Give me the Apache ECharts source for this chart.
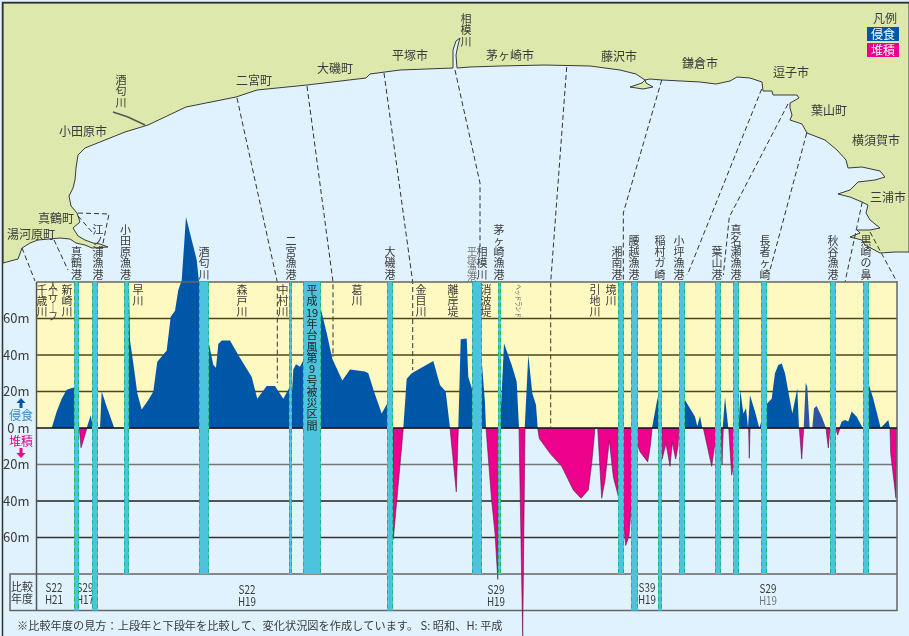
<!DOCTYPE html>
<html lang="ja">
<head>
    <meta charset="UTF-8">
    <title>相模湾沿岸 汀線変化状況図</title>
    <style>
        html, body { margin: 0; padding: 0; background: #e0f2fe; overflow: hidden; }
    </style>
</head>
<body>
<div id="main" style="width: 909px;height:636px;"></div>

<script src="https://cdn.jsdelivr.net/npm/echarts@6/dist/echarts.min.js"></script>

<script type="text/javascript">
    // distance along the coast (same unit as the map) and shoreline change in metres
    var erosionX = [
        51.7, 56.7, 61.7, 66.7, 72.7, 75, 76,
        86.7, 90.7, 92.5, 93,
        100, 101.7, 106.7, 114.3,
        128.5, 129, 130, 133.3, 137.3, 141.7, 148.3, 153.3, 157.3, 166.7, 170.7, 175, 178.3, 181.7, 186, 191.7, 196.7, 199,
        209, 213.3, 216, 218.3, 221.7, 230, 238.3, 251.7, 257.3, 266.7, 275, 283.3, 289.3, 290,
        292, 293.3, 296, 300, 302.7, 310, 320.7, 326.7, 332.3, 342.3, 350, 365, 368.3, 374, 381.7, 387.3, 390,
        403.3, 406.7, 411.7, 433.3, 440, 445.7, 450,
        458.3, 460.7, 466.7, 468.3, 472.3, 482, 485, 486,
        500, 504, 511.7, 516.7, 519,
        524.7, 528.3, 532.3, 536, 537.7,
        652, 657.7, 660,
        680, 685, 695, 697.3, 700, 702.3,
        722.7, 725, 727, 728.3,
        738.7, 740.3, 743.3, 746, 748, 748.5, 750, 755, 759.3,
        760, 767.3, 771.7, 775, 778.3, 781.7, 785, 792.3, 797.3, 799,
        839.3, 841.7, 845, 848.3, 851.7, 856.7, 862.7,
        866, 868.7, 873.3, 880.7, 881.7, 888.3, 890
    ];
    var erosion = [
        0, 9, 16, 21, 22, 22, 0,
        0, 7, 8, 0,
        0, 20, 11.7, 0,
        0, 78, 48, 35.5, 19, 10.2, 15.3, 20, 36.3, 42.4, 61, 64.3, 75.6, 81, 115.6, 103, 92, 80,
        46, 34.5, 33, 46, 48, 48, 40, 28, 16, 23, 23, 16, 22, 0,
        0, 32, 35, 33.6, 36.5, 50, 65.5, 52, 38, 26, 32, 31, 30, 20, 8, 13.5, 0,
        0, 27, 30, 36.7, 23.5, 20, 0,
        0, 48.6, 49, 28, 21, 35, 13.5, 0,
        0, 46.4, 34.5, 25.4, 0,
        0, 40, 19, 12.6, 0,
        0, 17, 0,
        0, 15.3, 6.2, 1, 6.6, 0,
        0, 17, 17, 0,
        0, 21, 8, 10.8, 0, 0, 18, 9, 0,
        0, 13.5, 16, 30, 34.5, 35.4, 30, 8, 21.7, 0,
        0, 3.5, 4.4, 3.5, 9, 6.2, 0,
        0, 24, 16, 0, 0, 4.4, 0
    ];
    // the two paler blue humps near 秋谷
    var erosionPaleX = [803.7, 805.7, 807.3, 809.7, 812.3, 814, 816.7, 821.7, 826];
    var erosionPale = [0, 24.8, 22.6, 0, 0, 10.8, 12, 6.2, 0];

    var depositionX = [
        79.3, 81, 87,
        393, 393.3, 395, 403.3,
        450, 456.3, 458.3,
        486, 491.7, 495, 497.8, 498.3, 499,
        537.7, 539.3, 550, 561.7, 573.3, 581, 588.3, 591.7, 595,
        597.7, 601.7, 605, 609.3, 613.3, 617.7, 623, 625.7, 629, 631, 637.7, 640, 647.7, 650.7, 652,
        662, 662.2, 666, 670, 672.3, 675.7, 678, 679,
        703.3, 711.7, 715, 721, 722, 723.3,
        728.7, 731.7, 733.3, 735,
        748.6, 749.3, 750,
        799.3, 801.7, 803.7,
        826, 828.3, 830,
        835.7, 837.7, 840,
        890, 890.7, 896, 896.8
    ];
    var deposition = [
        0, -10.8, 0,
        0, -61, -60, 0,
        0, -35, 0,
        0, -40, -57.6, -83, -30, 0,
        0, -5.7, -13.9, -21, -34, -38.5, -34, -19.4, 0,
        0, -38.5, -28.5, -6.6, -26.7, -36, -50, -64.4, -59, -45, -9.3, -13, -18.6, -8.4, 0,
        0, -17, -8.4, -21, -8, -17, -10, 0,
        0, -21, -8.4, 0, -20, 0,
        0, -25.8, -21, 0,
        0, -16.6, 0,
        0, -17, 0,
        0, -11, 0,
        0, -3.8, 0,
        0, -14, -38.5, 0
    ];
    // the deposition spike at the ヘッドランド runs over the table and off the page
    var spikeX = [519, 522.7, 525];
    var spike = [0, -114, 0];

    // harbours and the storm section: stripes across the profile
    var stripeLeft = [74, 92, 124, 199, 289, 303, 387, 472, 498, 618, 631, 658, 679, 715, 733, 761, 830, 863];
    var stripeRight = [79, 98, 129, 209, 292, 321, 393, 482, 501, 624, 638, 662, 685, 721, 739, 767, 836, 869];
    var stripeFoot = [-100, -100, -80, -80, -80, -80, -100, -80, -80, -80, -100, -100, -80, -80, -80, -80, -80, -80];

    var levels = [60, 40, 20, -20, -40, -60];
    var levelColors = ['#4a4626', '#4a4626', '#4a4626', '#777777', '#222222', '#333333'];

    // coast, in map coordinates
    var coast = [
        [3, 263], [18, 259], [22, 248], [30, 243], [38, 240], [60, 238], [70, 239], [76, 243], [85, 245], [92, 248],
        [108, 247], [100, 244], [93, 243], [85, 240], [78, 236], [73, 228], [80, 222], [77, 213], [71, 206], [69, 196],
        [73, 188], [75, 180], [76, 168], [78, 155], [85, 148], [100, 142], [125, 132], [148, 125], [186, 107], [236, 97],
        [257, 90], [307, 85], [366, 78], [370, 74], [400, 70], [453, 68], [453, 50], [456, 41], [460, 38], [458, 45],
        [456, 55], [457, 68], [470, 67], [500, 66], [545, 65], [590, 66], [620, 70], [636, 74], [645, 80], [650, 79],
        [662, 80], [700, 82], [716, 84], [730, 81], [737, 77], [750, 78], [762, 82], [763, 91], [772, 91], [773, 95],
        [785, 95], [797, 95], [799, 98], [790, 103], [790, 108], [792, 115], [790, 120], [802, 124], [807, 133], [825, 140],
        [837, 150], [846, 160], [848, 168], [862, 167], [880, 171], [885, 177], [875, 180], [858, 182], [850, 190], [838, 194],
        [850, 197], [862, 202], [868, 205], [866, 213], [870, 220], [880, 228], [870, 230], [857, 230], [860, 233], [850, 237],
        [862, 240], [865, 245], [880, 253], [895, 252], [909, 252], [909, 3], [3, 3]
    ];
    var enoshima = [[630, 87], [642, 83], [645, 80], [646, 83], [653, 87], [643, 89]];
    var sakawa = [[113, 112], [128, 117], [145, 125]];

    // section boundaries on the map (map coordinates)
    var sectionLines = [
        [[22, 248], [35, 281]],
        [[54, 240], [68, 270]],
        [[78, 213], [109, 214], [102, 248]],
        [[78, 216], [92, 232]],
        [[237, 98], [277.3, 282], [277.3, 383]],
        [[307, 86], [333, 282], [333, 357]],
        [[384, 73], [412.7, 282], [412.7, 370]],
        [[455, 70], [480, 183], [480, 247]],
        [[566.7, 67], [550.7, 282], [550.7, 427]],
        [[661.7, 80], [623.3, 213], [623.3, 280]],
        [[761.7, 89], [687.3, 275]],
        [[788, 104], [729.3, 217], [723.3, 275]],
        [[806.7, 133], [770, 270]],
        [[862.3, 202], [845, 282]],
        [[870, 232], [897, 282]]
    ];

    var placeNames = ['小田原市', '二宮町', '大磯町', '平塚市', '茅ヶ崎市', '藤沢市', '鎌倉市', '逗子市', '葉山町', '横須賀市', '三浦市', '真鶴町', '湯河原町', '凡例'];
    var placeX = [83, 254, 335, 410, 510, 619, 700, 791, 829, 876, 888, 56, 31, 885];
    var placeY = [131, 80, 68, 55, 55, 56, 63, 72, 110, 140, 197, 218, 234, 18];

    // vertical labels above the profile: name, centre x, bottom y
    var harbourNames = ['酒匂川', '相模川', '真鶴港', '江ノ浦漁港', '小田原漁港', '酒匂川', '二宮漁港', '大磯港', '相模川', '茅ヶ崎漁港', '湘南港', '腰越漁港', '稲村ガ崎', '小坪漁港', '葉山港', '真名瀬漁港', '長者ヶ崎', '秋谷漁港', '黒崎の鼻'];
    var harbourX = [121, 466, 76.5, 98, 125.5, 204, 291, 390, 482, 499, 617, 634, 660, 679, 717, 736, 765, 833, 866];
    var harbourBottom = [108, 47, 280, 280, 280, 280, 280, 280, 280, 280, 280, 280, 280, 280, 280, 280, 280, 280, 280];

    // vertical labels inside the yellow band: name, centre x
    var riverNames = ['千歳川', '新崎川', '早川', '森戸川', '中村川', '葛川', '金目川', '離岸堤', '消波堤', '引地川', '境川'];
    var riverX = [42, 67, 138, 242, 283, 357, 421, 453, 486, 595, 611];

    // 比較年度 table: earlier year, later year
    var yearsOld = ['S22', 'S29', 'S22', 'S29', 'S39', 'S29'];
    var yearsNew = ['H21', 'H17', 'H19', 'H19', 'H19', 'H19'];
    var yearsX = [54, 85, 247, 496, 647, 768];
    var yearsTop = [587, 587, 589, 589, 587, 588];

    var note = '※比較年度の見方：上段年と下段年を比較して、変化状況図を作成しています。 S: 昭和、H: 平成';
    var stormLabel = ['平', '成', '19', '年', '台', '風', '第', '9', '号', '被', '災', '区', '間'];

    // the small arrows next to 侵食 and 堆積
    var arrowUp = [[21, 398], [25.5, 403], [22.5, 403], [22.5, 408], [19.5, 408], [19.5, 403], [16.5, 403]];
    var arrowDown = [[21, 458], [25.5, 453], [22.5, 453], [22.5, 448], [19.5, 448], [19.5, 453], [16.5, 453]];

    var FONT = '"Noto Sans CJK JP", "Noto Sans", sans-serif';
    var TEXT = '#3a3a3a';
    var BLUE = '#0057a8';
    var PINK = '#ec008c';
    var TEAL = '#4cc4de';

    function vertical(name) {
        return name.split('').join('\n').replace(/ー/g, '｜');
    }

    function zip(xs, ys) {
        return xs.map(function (x, i) { return [x, ys[i]]; });
    }

    // a custom layer draws one item per row; grid 0 is the map, grid 1 the profile
    function layer(grid, z, count, draw) {
        var rows = [];
        for (var i = 0; i < count; i++) rows.push([i, 0]);
        return {
            type: 'custom',
            xAxisIndex: grid,
            yAxisIndex: grid,
            z: z,
            silent: true,
            clip: false,
            data: rows,
            renderItem: function (params, api) {
                return draw(params.dataIndex, api);
            }
        };
    }

    function textAt(pt, text, size, color, align, valign, lineHeight) {
        return {
            type: 'text',
            style: {
                x: pt[0], y: pt[1], text: text,
                fontSize: size, fontFamily: FONT, fill: color,
                align: align || 'center', verticalAlign: valign || 'middle',
                lineHeight: lineHeight || size + 1
            }
        };
    }

    // the years in the table are set in a condensed face in the original
    function narrowText(pt, text, color) {
        return {
            type: 'text',
            x: pt[0], y: pt[1], scaleX: 0.82,
            style: {
                x: 0, y: 0, text: text,
                fontSize: 12, fontFamily: FONT, fill: color,
                align: 'center', verticalAlign: 'middle'
            }
        };
    }

    function poly(api, points, style) {
        return {
            type: 'polygon',
            shape: { points: points.map(function (p) { return api.coord(p); }) },
            style: style
        };
    }

    function polyline(api, points, style) {
        return {
            type: 'polyline',
            shape: { points: points.map(function (p) { return api.coord(p); }) },
            style: style
        };
    }

    function profile(xs, ys, z, color, lineStyle) {
        return {
            type: 'line', xAxisIndex: 1, yAxisIndex: 1, z: z, symbol: 'none', silent: true, clip: false,
            data: zip(xs, ys),
            lineStyle: lineStyle, areaStyle: { color: color, opacity: 1 }
        };
    }

    var series = [];

    // land
    series.push(layer(0, 1, 1, function (i, api) {
        return {
            type: 'group',
            children: [
                poly(api, coast, { fill: '#dde8ad', stroke: '#3a3a3a', lineWidth: 1 }),
                poly(api, enoshima, { fill: '#dde8ad', stroke: '#3a3a3a', lineWidth: 1 }),
                polyline(api, sakawa, { fill: null, stroke: '#555555', lineWidth: 1.5 })
            ]
        };
    }));

    // yellow band above 0 m
    series.push(layer(1, 2, 1, function (i, api) {
        var a = api.coord([36.5, 80]);
        var b = api.coord([897, 0]);
        return { type: 'rect', shape: { x: a[0], y: a[1], width: b[0] - a[0], height: b[1] - a[1] }, style: { fill: '#fef9c0' } };
    }));

    // section boundaries
    series.push(layer(0, 3, sectionLines.length, function (i, api) {
        return polyline(api, sectionLines[i], { fill: null, stroke: '#333333', lineWidth: 1, lineDash: [5, 3] });
    }));

    // level lines
    series.push(layer(1, 4, levels.length, function (i, api) {
        return polyline(api, [[36.5, levels[i]], [897, levels[i]]], { fill: null, stroke: levelColors[i], lineWidth: 1.5 });
    }));

    series.push(profile(erosionX, erosion, 5, BLUE, { width: 0 }));
    series.push(profile(erosionPaleX, erosionPale, 5, '#2d55a5', { width: 0 }));
    series.push(profile(depositionX, deposition, 5, PINK, { width: 0.6, color: '#5a1a48' }));

    // table frame and the 0 m line
    series.push(layer(1, 6, 1, function (i, api) {
        var frame = { fill: null, stroke: '#555555', lineWidth: 1.5 };
        return {
            type: 'group',
            children: [
                polyline(api, [[36.5, 80], [897, 80], [897, -100], [10, -100], [10, -80], [897, -80]], { fill: null, stroke: '#666666', lineWidth: 1.5 }),
                polyline(api, [[36.5, 80], [36.5, -100]], frame),
                polyline(api, [[36.5, 0], [897, 0]], { fill: null, stroke: '#111111', lineWidth: 1.5 })
            ]
        };
    }));

    // table text sits under the stripes
    series.push(layer(0, 7, yearsOld.length, function (i, api) {
        var x = yearsX[i];
        var y = yearsTop[i];
        return {
            type: 'group',
            children: [
                narrowText(api.coord([x, y]), yearsOld[i], TEXT),
                narrowText(api.coord([x, y + 12]), yearsNew[i], i === 5 ? '#777777' : TEXT)
            ]
        };
    }));

    // stripes
    series.push(layer(1, 8, stripeLeft.length, function (i, api) {
        var a = api.coord([stripeLeft[i], 80]);
        var b = api.coord([stripeRight[i], stripeFoot[i]]);
        var dash = { fill: null, stroke: '#22b573', lineWidth: 1, lineDash: [4, 3] };
        return {
            type: 'group',
            children: [
                { type: 'rect', shape: { x: a[0], y: a[1], width: b[0] - a[0], height: b[1] - a[1] }, style: { fill: TEAL } },
                polyline(api, [[stripeLeft[i] + 0.5, 80], [stripeLeft[i] + 0.5, stripeFoot[i]]], dash),
                polyline(api, [[stripeRight[i] - 0.5, 80], [stripeRight[i] - 0.5, stripeFoot[i]]], dash)
            ]
        };
    }));

    series.push(profile(spikeX, spike, 9, PINK, { width: 0.6, color: '#5a1a48' }));

    // place names and legend
    series.push(layer(0, 10, placeNames.length, function (i, api) {
        return textAt(api.coord([placeX[i], placeY[i]]), placeNames[i], 12, TEXT);
    }));
    series.push(layer(0, 10, 2, function (i, api) {
        var a = api.coord([867, 27 + i * 16]);
        var b = api.coord([899, 41 + i * 16]);
        return {
            type: 'group',
            children: [
                { type: 'rect', shape: { x: a[0], y: a[1], width: b[0] - a[0], height: b[1] - a[1] }, style: { fill: i === 0 ? BLUE : PINK } },
                textAt([(a[0] + b[0]) / 2, (a[1] + b[1]) / 2], i === 0 ? '侵食' : '堆積', 12, '#ffffff')
            ]
        };
    }));

    series.push(layer(0, 10, harbourNames.length, function (i, api) {
        return textAt(api.coord([harbourX[i], harbourBottom[i]]), vertical(harbourNames[i]), 11, TEXT, 'center', 'bottom', 11.2);
    }));
    series.push(layer(0, 10, 1, function (i, api) {
        return textAt(api.coord([472, 281]), vertical('平塚漁港'), 10, '#777777', 'center', 'bottom', 8.5);
    }));

    series.push(layer(0, 10, riverNames.length, function (i, api) {
        return textAt(api.coord([riverX[i], 284]), vertical(riverNames[i]), 11, TEXT, 'center', 'top', 11);
    }));
    series.push(layer(0, 10, 2, function (i, api) {
        if (i === 0) return textAt(api.coord([53, 283]), vertical('人工'), 10, TEXT, 'center', 'top', 6);
        return textAt(api.coord([53, 295]), vertical('リーフ'), 10, TEXT, 'center', 'top', 8.5);
    }));
    // ヘッドランド is turned on its side in the original
    series.push(layer(0, 10, 1, function (i, api) {
        var pt = api.coord([519, 301]);
        return {
            type: 'text',
            x: pt[0], y: pt[1], rotation: -Math.PI / 2, scaleX: 0.8,
            style: {
                x: 0, y: 0, text: 'ヘッドランド',
                fontSize: 7, fontFamily: FONT, fill: '#555555',
                align: 'center', verticalAlign: 'middle'
            }
        };
    }));

    // storm section label, one unit per line
    series.push(layer(0, 10, stormLabel.length, function (i, api) {
        return textAt(api.coord([312, 290 + i * 11.3]), stormLabel[i], 11, '#222222');
    }));

    // side captions
    series.push(layer(0, 10, 1, function (i, api) {
        return {
            type: 'group',
            children: [
                poly(api, arrowUp, { fill: BLUE }),
                textAt(api.coord([21, 415]), '侵食', 12, '#3a86c8'),
                textAt(api.coord([21, 441]), '堆積', 12, PINK),
                poly(api, arrowDown, { fill: PINK }),
                textAt(api.coord([22, 592.5]), '比較\n年度', 11, TEXT, 'center', 'middle', 12),
                textAt(api.coord([17, 626]), note, 11.2, TEXT, 'left', 'middle')
            ]
        };
    }));

    // page frame (only top and left fall inside the window)
    series.push(layer(0, 11, 1, function (i, api) {
        return polyline(api, [[2.5, 640], [2.5, 2.5], [912, 2.5]], { fill: null, stroke: '#333333', lineWidth: 1.5 });
    }));

    var myChart = echarts.init(document.getElementById('main'), null, { renderer: 'canvas' });

    var option = {
        animation: false,
        backgroundColor: '#e0f2fe',
        grid: [
            { left: 0, top: 0, width: 909, height: 636 },
            { left: 36.5, top: 209, width: 860.5, height: 401.5 }
        ],
        xAxis: [
            { type: 'value', gridIndex: 0, min: 0, max: 909, show: false },
            { type: 'value', gridIndex: 1, min: 36.5, max: 897, show: false }
        ],
        yAxis: [
            { type: 'value', gridIndex: 0, min: 0, max: 636, inverse: true, show: false },
            {
                type: 'value', gridIndex: 1, min: -100, max: 120, interval: 20,
                axisLine: { show: false },
                axisTick: { show: false },
                splitLine: { show: false },
                axisLabel: {
                    margin: 7,
                    fontSize: 13,
                    fontFamily: FONT,
                    color: TEXT,
                    formatter: function (v) {
                        if (Math.abs(v) > 60) return '';
                        return v === 0 ? '0 m' : Math.abs(v) + 'm';
                    }
                }
            }
        ],
        series: series
    };
    myChart.setOption(option);
</script>
</body>
</html>
